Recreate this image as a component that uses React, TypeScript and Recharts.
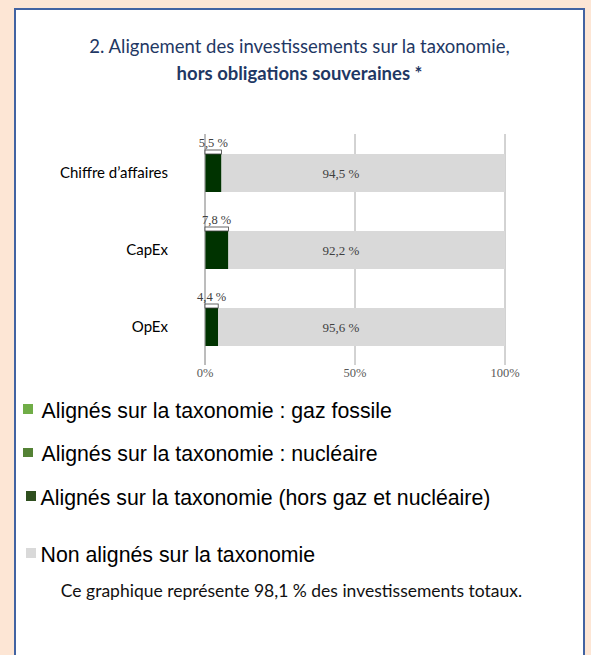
import React from 'react'
import { BarChart, Bar, XAxis, YAxis, CartesianGrid, Legend } from 'recharts'

const categories = ['Chiffre d’affaires', 'CapEx', 'OpEx']
const gazFossile = [0, 0, 0]
const nucleaire = [0, 0, 0]
const horsGazNucleaire = [5.5, 7.8, 4.4]
const nonAlignes = [94.5, 92.2, 95.6]
const xTicks = [0, 50, 100]
const seriesOrder = ['gaz', 'nucl', 'hors', 'non']

const data = categories.map((name, i) => ({
  name,
  gaz: gazFossile[i],
  nucl: nucleaire[i],
  hors: horsGazNucleaire[i],
  non: nonAlignes[i]
}))

const fmt = (v: number) => `${v.toFixed(1).replace('.', ',')} %`

const serif = '"Liberation Serif", "Times New Roman", serif'

const SmallLabel = (props: any) => {
  const { x, y, width, index } = props
  return (
    <g>
      <rect x={x} y={y - 4} width={width} height={4} fill="#fff" stroke="#404040" strokeWidth={0.8} />
      <text x={x + width / 2} y={y - 7} textAnchor="middle" fontFamily={serif} fontSize={12.5} fill="#404040">
        {fmt(horsGazNucleaire[index])}
      </text>
    </g>
  )
}

const GreyLabel = (props: any) => {
  const { x, y, width, height, index } = props
  return (
    <text x={x + width - 164} y={y + height / 2} dy="0.35em" textAnchor="middle" fontFamily={serif} fontSize={13} fill="#404040">
      {fmt(nonAlignes[index])}
    </text>
  )
}

const LegendList = ({ payload }: any) => {
  const items = [...(payload || [])].sort((a: any, b: any) => seriesOrder.indexOf(a.dataKey) - seriesOrder.indexOf(b.dataKey))
  return (
    <div style={{ fontFamily: '"Liberation Sans", Arial, sans-serif', fontSize: 21.3, color: '#000' }}>
      {items.map((entry: any, i: number) => (
        <div key={i} style={{ display: 'flex', alignItems: 'center', height: 26, marginBottom: i === 2 ? 31 : 17.5 }}>
          <span style={{ display: 'inline-block', width: 9.5, height: 9.5, background: i === 2 ? '#2f4f1f' : entry.color, marginLeft: i >= 2 ? 3 : 0, marginRight: i >= 2 ? 5 : 9, marginTop: -4 }} />
          <span>{entry.value}</span>
        </div>
      ))}
    </div>
  )
}

export default function App() {
  return (
    <div style={{ position: 'absolute', left: 0, top: 0, width: 591, height: 655, background: '#fde6d5', overflow: 'hidden' }}>
      <div style={{ position: 'absolute', left: 14, top: 8, width: 567, height: 700, background: '#fff', border: '2px solid #4263a2' }} />
      <div style={{ position: 'absolute', left: 14, top: 33, width: 571, textAlign: 'center', fontFamily: 'Lato, sans-serif', fontSize: 18.5, lineHeight: '26.6px', color: '#1f3864' }}>
        <div>2. Alignement des investissements sur la taxonomie,</div>
        <div style={{ fontWeight: 700 }}>hors obligations souveraines *</div>
      </div>
      <div style={{ position: 'absolute', left: 0, top: 0 }}>
        <BarChart width={591} height={655} data={data} layout="vertical" margin={{ top: 134, right: 86, bottom: 270, left: 0 }} barSize={38}>
          <CartesianGrid horizontal={false} stroke="#a6a6a6" />
          <XAxis type="number" domain={[0, 100]} ticks={xTicks} tickFormatter={(v) => `${v}%`} axisLine={false} tickLine={false} tickSize={0} tickMargin={3} height={20} tick={{ fontFamily: serif, fontSize: 12.5, fill: '#595959' }} />
          <YAxis type="category" dataKey="name" width={205} axisLine={{ stroke: '#a6a6a6' }} tickLine={false} tickSize={0} tickMargin={37} tick={{ fontFamily: 'Lato, sans-serif', fontSize: 15, fill: '#000' }} />
          <Legend layout="horizontal" verticalAlign="middle" align="center" wrapperStyle={{ left: 23, top: 398, width: 560 }} content={<LegendList />} />
          <Bar dataKey="gaz" name="Alignés sur la taxonomie : gaz fossile" stackId="a" fill="#70ad47" isAnimationActive={false} />
          <Bar dataKey="nucl" name="Alignés sur la taxonomie : nucléaire" stackId="a" fill="#548235" isAnimationActive={false} />
          <Bar dataKey="hors" name="Alignés sur la taxonomie (hors gaz et nucléaire)" stackId="a" fill="#003300" isAnimationActive={false} label={<SmallLabel />} />
          <Bar dataKey="non" name="Non alignés sur la taxonomie" stackId="a" fill="#d9d9d9" isAnimationActive={false} label={<GreyLabel />} />
        </BarChart>
      </div>
      <div style={{ position: 'absolute', left: 6, top: 580, width: 571, textAlign: 'center', fontFamily: 'Lato, sans-serif', fontSize: 17.5, color: '#111' }}>
        Ce graphique représente 98,1 % des investissements totaux.
      </div>
    </div>
  )
}
